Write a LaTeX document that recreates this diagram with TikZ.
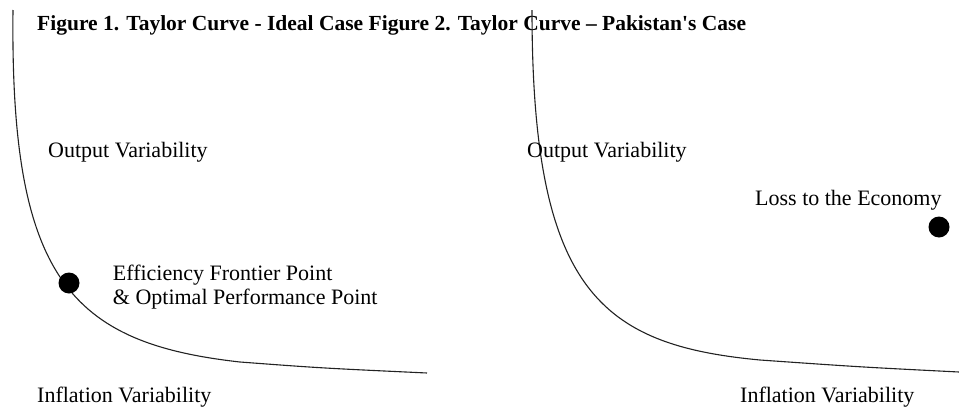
\documentclass[tikz,border=0pt]{standalone}
\usepackage{fontspec}
\setmainfont{Liberation Serif}[Ligatures=TeXOff]
\usetikzlibrary{positioning}
\definecolor{curveGray}{HTML}{222222}

\begin{document}
\begin{tikzpicture}[x=1pt, y=-1pt,
    every node/.style={inner sep=0pt, font=\fontsize{22}{24}\selectfont},
    lbl/.style={anchor=west},
    dot/.style={circle, fill=black, minimum size=21pt},
    taylor/.style={draw=curveGray, line width=1.1pt}]
    \useasboundingbox (0,0) rectangle (959,407);
    % title
    \node[lbl, font=\fontsize{21.5}{25}\selectfont\bfseries] (title) at (37,25)
      {Figure 1. Taylor Curve - Ideal Case Figure 2. Taylor Curve – Pakistan's Case};
    % left panel
    \coordinate (lTop) at (13,10);
    \coordinate (lEnd) at (427,373);
    \draw[taylor] (lTop) .. controls (10,278) and (70,343) .. (240,362)
                         .. controls (320,368) .. (lEnd);
    \node[lbl] (lOut) at (48,152) {Output Variability};
    \node[dot] (optPt) at (69,283) {};
    \node[lbl, align=left, right=33pt of optPt, yshift=-4pt] (optTxt)
      {Efficiency Frontier Point\\\& Optimal Performance Point};
    \node[lbl] (lInf) at (37,397) {Inflation Variability};
    % right panel
    \coordinate (rTop) at (532,10);
    \coordinate (rEnd) at (959,372);
    \draw[taylor] (rTop) .. controls (532,290) and (600,345) .. (760,360)
                         .. controls (860,367) .. (rEnd);
    \node[lbl] (rOut) at (527,152) {Output Variability};
    \node[lbl] (lossTxt) at (755,200) {Loss to the Economy};
    \node[dot] (lossPt) at (939,227) {};
    \node[lbl] (rInf) at (740,397) {Inflation Variability};
  \end{tikzpicture}
\end{document}
